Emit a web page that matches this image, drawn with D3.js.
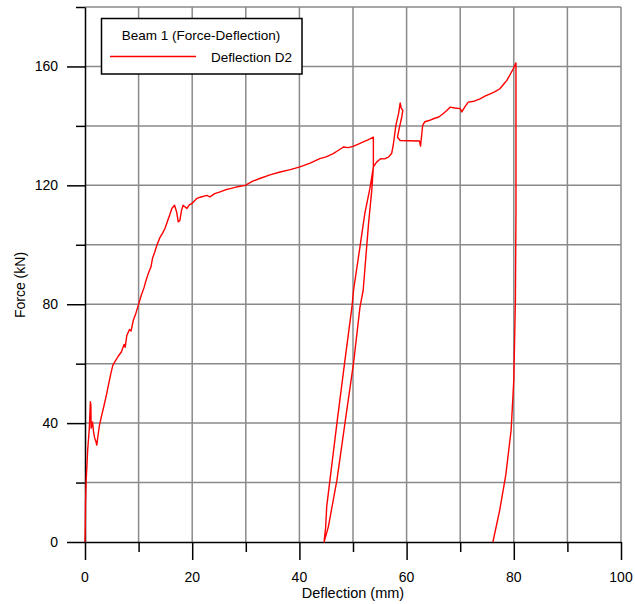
<!DOCTYPE html>
<html>
<head>
<meta charset="utf-8">
<script src="https://cdn.jsdelivr.net/npm/d3@7"></script>
<style>
  body { margin: 0; background: #fff; }
  text { font-family: "Liberation Sans", Arial, sans-serif; fill: #000; }
</style>
</head>
<body>
<div id="chart"></div>
<script>
var deflection = [0, 0.05, 0.1, 0.2, 0.5, 0.8, 1.0, 1.1, 1.15, 1.4, 1.6, 1.8, 2.0, 2.2, 2.3, 2.4, 2.7, 3.05, 3.5, 4.0,
  4.3, 4.8, 5.2, 5.7, 6.2, 6.8, 7.3, 7.5, 7.8, 8.3, 8.6, 9.0, 9.5, 9.95, 10.5, 11.0, 11.3, 11.8, 12.3, 12.6,
  13.0, 13.4, 14.0, 14.5, 14.9, 15.4, 15.8, 16.2, 16.7, 17.1, 17.4, 17.7, 18.0, 18.3, 19.0, 19.5, 19.9, 20.8, 21.5, 22.7,
  23.3, 24.2, 25.2, 26.2, 27.1, 28.0, 28.9, 29.9, 31.2, 32.6, 34.5, 36.4, 38.3, 40.1, 42.0, 43.8, 45.0, 46.3, 47.3, 48.2,
  49.1, 50.0, 51.0, 51.9, 52.8, 53.8, 53.8,
  53.5, 52.9, 51.9, 51.3, 50.1, 48.5, 47.0, 45.4, 44.6,
  44.9, 45.1, 45.7, 47.0, 48.5, 49.8, 50.1, 51.3, 52.2, 53.2, 53.8,
  54.4, 55.2, 55.9, 56.6, 57.2, 57.5, 58.0, 58.5, 58.8, 59.0, 59.3, 59.1, 58.6, 58.3, 58.8, 60.5, 62.4, 62.6, 63.0, 63.4,
  64.2, 65.0, 66.0, 66.8, 67.5, 68.1, 69.0, 70.0, 70.3, 70.9, 71.5, 72.6, 73.7, 74.6, 75.6, 76.5, 77.4, 78.1, 78.7, 79.3,
  79.9, 80.4,
  80.4, 80.3, 80.0, 79.5, 78.5, 77.4, 76.1];
var force = [0, 5, 13, 20, 31, 38, 47.2, 46, 38.3, 40.4, 37, 35, 34, 32.6, 34, 35.4, 39.3, 42.1, 45.5, 49.5,
  52.2, 56.5, 59.5, 61, 62.5, 64, 66.5, 65.5, 69.5, 71.5, 71, 74.5, 77, 79.7, 83, 85.5, 87.5, 90.3, 92.5, 95.5,
  97.5, 99.8, 102.5, 104, 105.4, 108, 110, 112.2, 113.3, 111, 107.7, 108.2, 111.5, 113.3, 112.2, 113.5, 113.8, 115.5, 116, 116.6,
  116.1, 117.2, 117.8, 118.5, 118.9, 119.3, 119.7, 120, 121.3, 122.3, 123.5, 124.5, 125.3, 126.2, 127.5, 129, 129.6, 130.7, 131.8, 132.9,
  132.7, 133.1, 133.9, 134.6, 135.3, 136.2, 126.2,
  118.3, 107.1, 84.7, 79, 60.2, 40, 20.8, 5.1, 0,
  5, 12, 20.8, 40, 61.2, 79, 84.7, 99.3, 110.5, 119.4, 126.2,
  127.8, 129, 128.9, 129.5, 130.7, 133.4, 140.2, 144.1, 147.7, 146, 145.2, 143, 139, 136.2, 135.1, 135, 134.9, 133.2, 140.2, 141.4,
  141.8, 142.4, 143, 144.1, 145.2, 146.3, 146, 145.8, 144.7, 146.5, 148, 148.3, 149.1, 150, 150.8, 151.5, 152.5, 154, 155.3, 157.2,
  159.2, 161.2,
  110, 81.3, 54.5, 37.6, 22.5, 11, 0];

var xTicks = [0, 10, 20, 30, 40, 50, 60, 70, 80, 90, 100];
var xLabels = [0, 20, 40, 60, 80, 100];
var yTicks = [0, 20, 40, 60, 80, 100, 120, 140, 160, 180];
var yLabels = [0, 40, 80, 120, 160];

var chartTitle = "Beam 1 (Force-Deflection)",
  seriesName = "Deflection D2";

var width = 635,
  height = 604,
  plotLeft = 85,
  plotRight = 621,
  plotTop = 7,
  plotBottom = 542;

var x = d3.scaleLinear().domain([0, 100]).range([plotLeft, plotRight]);
var y = d3.scaleLinear().domain([0, 180]).range([plotBottom, plotTop]);

var svg = d3.select('#chart').append('svg')
  .attr('width', width)
  .attr('height', height);

// grid
svg.append('g').selectAll('line').data(xTicks.slice(1)).enter().append('line')
  .attr('x1', d => x(d)).attr('x2', d => x(d))
  .attr('y1', plotTop).attr('y2', plotBottom)
  .attr('stroke', '#8a8a8a').attr('stroke-width', 1.5);
svg.append('g').selectAll('line').data(yTicks.slice(1)).enter().append('line')
  .attr('x1', plotLeft).attr('x2', plotRight)
  .attr('y1', d => y(d)).attr('y2', d => y(d))
  .attr('stroke', '#8a8a8a').attr('stroke-width', 1.5);

// axes
var xAxis = d3.axisBottom(x).tickValues(xTicks).tickFormat('')
  .tickSizeOuter(0).tickSizeInner(10);
var gx = svg.append('g').attr('transform', 'translate(0,' + plotBottom + ')').call(xAxis);
gx.selectAll('.tick line')
  .attr('y2', d => xLabels.indexOf(d) >= 0 ? 18 : 10);

var yAxis = d3.axisLeft(y).tickValues(yTicks).tickFormat('')
  .tickSizeOuter(0).tickSizeInner(9);
var gy = svg.append('g').attr('transform', 'translate(' + plotLeft + ',0)').call(yAxis);
gy.selectAll('.tick line')
  .attr('x2', d => yLabels.indexOf(d) >= 0 ? -18 : -9);

svg.selectAll('.domain').attr('stroke', '#000').attr('stroke-width', 1.5);
svg.selectAll('.tick line').attr('stroke', '#000').attr('stroke-width', 1.5);

svg.append('g').selectAll('text').data(xLabels).enter().append('text')
  .attr('x', d => x(d)).attr('y', 582)
  .attr('text-anchor', 'middle')
  .style('font-size', '14px')
  .text(d => d);

svg.append('g').selectAll('text').data(yLabels).enter().append('text')
  .attr('x', 58).attr('y', d => y(d))
  .attr('dy', '0.36em')
  .attr('text-anchor', 'end')
  .style('font-size', '14px')
  .text(d => d);

svg.append('text')
  .attr('x', (plotLeft + plotRight) / 2).attr('y', 598)
  .attr('text-anchor', 'middle')
  .style('font-size', '14.5px')
  .text('Deflection (mm)');

svg.append('text')
  .attr('transform', 'translate(25,285) rotate(-90)')
  .attr('text-anchor', 'middle')
  .style('font-size', '14px')
  .text('Force (kN)');

// the curve
var line = d3.line()
  .x((d, i) => x(deflection[i]))
  .y((d, i) => y(force[i]));

svg.append('path')
  .datum(deflection)
  .attr('d', line)
  .attr('fill', 'none')
  .attr('stroke', '#ff0000')
  .attr('stroke-width', 1.4)
  .attr('stroke-linejoin', 'round');

// legend
var legend = svg.append('g');
legend.append('rect')
  .attr('x', 101.5).attr('y', 18.5)
  .attr('width', 200.5).attr('height', 55.5)
  .attr('fill', '#fff')
  .attr('stroke', '#000').attr('stroke-width', 1.5);
legend.append('text')
  .attr('x', 201).attr('y', 40)
  .attr('text-anchor', 'middle')
  .style('font-size', '13.5px')
  .text(chartTitle);
legend.append('line')
  .attr('x1', 110).attr('x2', 196)
  .attr('y1', 56.5).attr('y2', 56.5)
  .attr('stroke', '#ff0000').attr('stroke-width', 1.4);
legend.append('text')
  .attr('x', 292).attr('y', 61.5)
  .attr('text-anchor', 'end')
  .style('font-size', '13.5px')
  .text(seriesName);
</script>
</body>
</html>
